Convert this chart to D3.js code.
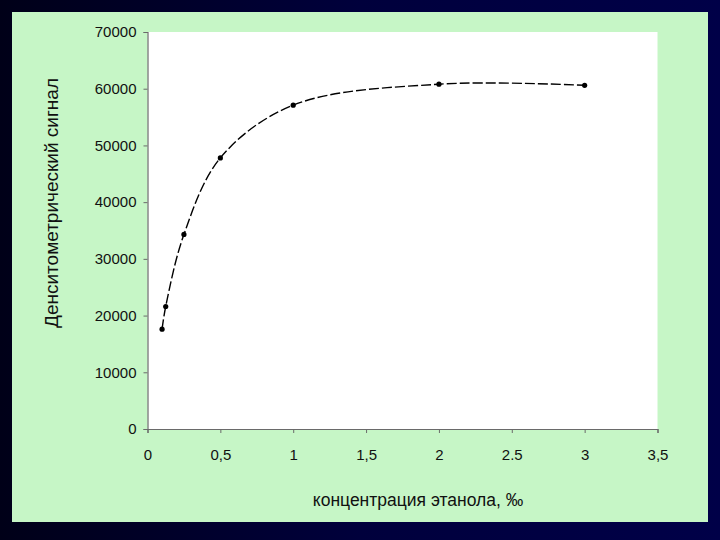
<!DOCTYPE html>
<html><head><meta charset="utf-8">
<script src="https://cdn.jsdelivr.net/npm/d3@7"></script>
<style>body{margin:0;background:#00003a;}</style>
</head><body>
<script>
const concentration = [0.1, 0.125, 0.25, 0.5, 1, 2, 3];
const signal = [17600, 21600, 34300, 47800, 57100, 60800, 60600];
const xTicks = [0, 0.5, 1, 1.5, 2, 2.5, 3, 3.5];
const xTickLabels = ["0", "0,5", "1", "1,5", "2", "2.5", "3", "3,5"];
const yTicks = [0, 10000, 20000, 30000, 40000, 50000, 60000, 70000];
const xTitle = "концентрация этанола, ‰";
const yTitle = "Денситометрический сигнал";

const W = 720, H = 540;
const svg = d3.select("body").append("svg").attr("width", W).attr("height", H);
const defs = svg.append("defs");
const g1 = defs.append("linearGradient").attr("id","bg").attr("x1",0).attr("x2",1);
g1.append("stop").attr("offset","0").attr("stop-color","#000018");
g1.append("stop").attr("offset","0.5").attr("stop-color","#00003c");
g1.append("stop").attr("offset","1").attr("stop-color","#000048");
svg.append("rect").attr("width",W).attr("height",H).attr("fill","url(#bg)");
svg.append("rect").attr("x",12).attr("y",12).attr("width",696).attr("height",510).attr("fill","#c6f6c6");

const m = {l:147.5, r:657.5, t:32, b:429};
svg.append("rect").attr("x",m.l).attr("y",m.t).attr("width",m.r-m.l).attr("height",m.b-m.t).attr("fill","#ffffff");

const x = d3.scaleLinear().domain([0,3.5]).range([m.l,m.r]);
const y = d3.scaleLinear().domain([0,70000]).range([m.b,m.t]);

const font = "Liberation Sans, Arial, sans-serif";
const xAxis = svg.append("g").attr("transform",`translate(0,${m.b})`)
  .call(d3.axisBottom(x).tickValues(xTicks).tickSize(4).tickPadding(16)
    .tickFormat((d,i)=>xTickLabels[i]));
const yAxis = svg.append("g").attr("transform",`translate(${m.l},0)`)
  .call(d3.axisLeft(y).tickValues(yTicks).tickSize(4).tickPadding(7)
    .tickFormat(d3.format("d")));
[xAxis,yAxis].forEach(a=>{
  a.select(".domain").attr("stroke","#6a6a6a").attr("stroke-width",1.2);
  a.selectAll(".tick line").attr("stroke","#6a6a6a");
  a.selectAll("text").attr("font-family",font).attr("font-size",15).attr("fill","#111");
});

const line = d3.line().x((d,i)=>x(concentration[i])).y(d=>y(d)).curve(d3.curveCatmullRom.alpha(0.5));
svg.append("path").datum(signal).attr("d",line).attr("fill","none")
  .attr("stroke","#000").attr("stroke-width",1.4).attr("stroke-dasharray","10,3");

svg.selectAll("circle.pt").data(signal).enter().append("circle")
  .attr("cx",(d,i)=>x(concentration[i])).attr("cy",d=>y(d)).attr("r",2.6).attr("fill","#000");

svg.append("text").attr("x",418).attr("y",506).attr("text-anchor","middle")
  .attr("font-family",font).attr("font-size",17.5).attr("fill","#111").text(xTitle);
svg.append("text").attr("transform","translate(58,203) rotate(-90)").attr("text-anchor","middle")
  .attr("font-family",font).attr("font-size",19).attr("fill","#111").text(yTitle);
</script>
</body></html>
